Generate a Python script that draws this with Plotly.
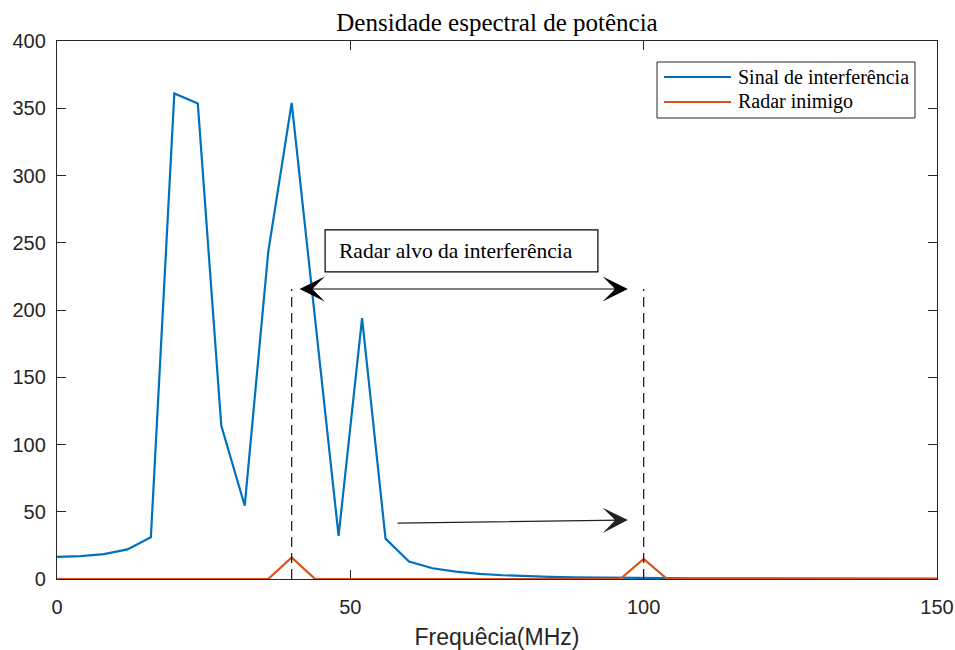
import plotly.graph_objects as go

# Frequency grid (MHz) and power spectral density values
freq_mhz = list(range(0, 153, 4))
sinal_interferencia = [16.5, 17.0, 18.5, 22.0, 31.0, 361.0, 353.5, 114.0, 54.5, 243.0,
                       354.0, 193.0, 32.0, 194.0, 30.0, 13.0, 8.0, 5.5, 3.8, 2.8,
                       2.1, 1.6, 1.3, 1.0, 0.8, 0.7, 0.6, 0.5, 0.45, 0.4,
                       0.35, 0.3, 0.3, 0.25, 0.25, 0.2, 0.2, 0.2, 0.2]
radar_inimigo = [0, 0, 0, 0, 0, 0, 0, 0, 0, 0,
                 16.0, 0, 0, 0, 0, 0, 0, 0, 0, 0,
                 0, 0, 0, 0, 0, 15.0, 0, 0, 0, 0,
                 0, 0, 0, 0, 0, 0, 0, 0, 0]

series_names = ["Sinal de interferência", "Radar inimigo"]
series_colors = ["#0072BD", "#D95319"]

x_ticks = [0, 50, 100, 150]
y_ticks = [0, 50, 100, 150, 200, 250, 300, 350, 400]

# Target radar band markers and annotation anchors
band_edges = [40, 100]
band_marker_top = 215.6
band_arrow = {"x_start": 41.1, "x_end": 97.3, "y": 215.6}
shift_arrow = {"x_start": 57.8, "y_start": 41.6, "x_end": 97.3, "y_end": 43.9}
label_box = {"x0": 45.7, "x1": 92.2, "y0": 228.3, "y1": 259.5}

serif = "Times New Roman, Liberation Serif, serif"
sans = "Arial, Liberation Sans, Helvetica, sans-serif"
axis_color = "#262626"

fig = go.Figure()
for name, vals, col in zip(series_names, [sinal_interferencia, radar_inimigo], series_colors):
    fig.add_trace(go.Scatter(x=freq_mhz, y=vals, mode="lines", name=name,
                             line=dict(color=col, width=2.2), showlegend=False,
                             cliponaxis=False))

shapes = []
for xe in band_edges:
    shapes.append(dict(type="line", xref="x", yref="y", x0=xe, x1=xe, y0=0, y1=band_marker_top,
                       line=dict(color="#111111", width=1.2, dash="10px,6px"), layer="above"))

# Label box
shapes.append(dict(type="rect", xref="x", yref="y", x0=label_box["x0"], x1=label_box["x1"],
                   y0=label_box["y0"], y1=label_box["y1"],
                   line=dict(color="#000000", width=1.2), fillcolor="white", layer="above"))

# Legend box drawn in paper coordinates
def px_x(p):
    return (p - 57) / 880.0

def px_y(p):
    return (579 - p) / 538.0

shapes.append(dict(type="rect", xref="paper", yref="paper", x0=px_x(657), x1=px_x(915),
                   y0=px_y(118), y1=px_y(62), line=dict(color="#262626", width=1),
                   fillcolor="white", layer="above"))
legend_rows = [77, 102]
for row, col in zip(legend_rows, series_colors):
    shapes.append(dict(type="line", xref="paper", yref="paper", x0=px_x(664), x1=px_x(731),
                       y0=px_y(row), y1=px_y(row), line=dict(color=col, width=2.2), layer="above"))

annotations = []
for row, name in zip(legend_rows, series_names):
    annotations.append(dict(xref="paper", yref="paper", x=px_x(736), y=px_y(row),
                            xanchor="left", yanchor="middle", text=name, showarrow=False,
                            font=dict(family=serif, size=20, color="#000000")))

annotations.append(dict(xref="x", yref="y", x=label_box["x0"] + 2.0,
                        y=(label_box["y0"] + label_box["y1"]) / 2,
                        xanchor="left", yanchor="middle", text="Radar alvo da interferência",
                        showarrow=False, font=dict(family=serif, size=21.5, color="#000000")))

# Double-headed arrow spanning the target band
annotations.append(dict(xref="x", yref="y", axref="x", ayref="y",
                        x=band_arrow["x_end"], y=band_arrow["y"],
                        ax=band_arrow["x_start"], ay=band_arrow["y"],
                        text="", showarrow=True, arrowside="end+start",
                        arrowhead=3, startarrowhead=3, arrowsize=3.5, startarrowsize=3.5,
                        arrowwidth=1.2, arrowcolor="#000000", standoff=0, startstandoff=0))

# Arrow showing the shift toward the enemy radar frequency
annotations.append(dict(xref="x", yref="y", axref="x", ayref="y",
                        x=shift_arrow["x_end"], y=shift_arrow["y_end"],
                        ax=shift_arrow["x_start"], ay=shift_arrow["y_start"],
                        text="", showarrow=True, arrowhead=3, arrowsize=3.5,
                        arrowwidth=1.2, arrowcolor="#222222", standoff=0))

fig.update_layout(
    width=955, height=650,
    margin=dict(l=57, r=18, t=41, b=71, autoexpand=False),
    paper_bgcolor="white", plot_bgcolor="white",
    title=dict(text="Densidade espectral de potência", x=0.5, xref="paper",
               y=1 - 22 / 650, yref="container", xanchor="center", yanchor="middle",
               font=dict(family=serif, size=25, color="#000000")),
    shapes=shapes, annotations=annotations,
    showlegend=False,
)
fig.update_xaxes(range=[0, 150], tickvals=x_ticks, ticks="inside", ticklen=9, tickwidth=1,
                 tickcolor=axis_color, showline=True, linecolor=axis_color, linewidth=1.3,
                 mirror="ticks", showgrid=False, zeroline=False, layer="below traces",
                 automargin=False,
                 tickfont=dict(family=sans, size=20, color=axis_color), ticklabelstandoff=10,
                 title=dict(text="Frequêcia(MHz)", standoff=12,
                            font=dict(family=sans, size=23, color=axis_color)))
fig.update_yaxes(range=[0, 400], tickvals=y_ticks, ticks="inside", ticklen=9, tickwidth=1,
                 tickcolor=axis_color, showline=True, linecolor=axis_color, linewidth=1.3,
                 mirror="ticks", showgrid=False, zeroline=False, layer="below traces",
                 automargin=False,
                 tickfont=dict(family=sans, size=20, color=axis_color), ticklabelstandoff=6)

fig.write_html("out.html")
